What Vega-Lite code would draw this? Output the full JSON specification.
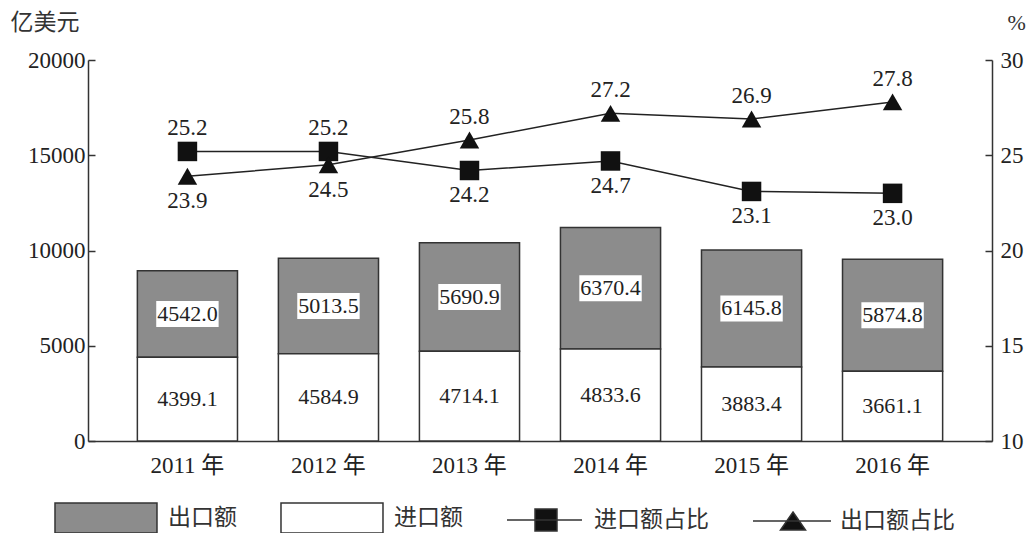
{
  "$schema": "https://vega.github.io/schema/vega-lite/v6.json",
  "width": 904,
  "height": 381,
  "autosize": {"type": "none"},
  "padding": {"left": 88, "top": 60, "right": 43, "bottom": 92},
  "background": "white",
  "config": {"view": {"stroke": null}, "axis": {"grid": false}},
  "datasets": {
    "trade": [
      {"year": "2011 年", "type": "出口额", "value": 4542.0},
      {"year": "2011 年", "type": "进口额", "value": 4399.1},
      {"year": "2012 年", "type": "出口额", "value": 5013.5},
      {"year": "2012 年", "type": "进口额", "value": 4584.9},
      {"year": "2013 年", "type": "出口额", "value": 5690.9},
      {"year": "2013 年", "type": "进口额", "value": 4714.1},
      {"year": "2014 年", "type": "出口额", "value": 6370.4},
      {"year": "2014 年", "type": "进口额", "value": 4833.6},
      {"year": "2015 年", "type": "出口额", "value": 6145.8},
      {"year": "2015 年", "type": "进口额", "value": 3883.4},
      {"year": "2016 年", "type": "出口额", "value": 5874.8},
      {"year": "2016 年", "type": "进口额", "value": 3661.1}
    ],
    "share": [
      {"year": "2011 年", "series": "进口额占比", "pct": 25.2},
      {"year": "2012 年", "series": "进口额占比", "pct": 25.2},
      {"year": "2013 年", "series": "进口额占比", "pct": 24.2},
      {"year": "2014 年", "series": "进口额占比", "pct": 24.7},
      {"year": "2015 年", "series": "进口额占比", "pct": 23.1},
      {"year": "2016 年", "series": "进口额占比", "pct": 23.0},
      {"year": "2011 年", "series": "出口额占比", "pct": 23.9},
      {"year": "2012 年", "series": "出口额占比", "pct": 24.5},
      {"year": "2013 年", "series": "出口额占比", "pct": 25.8},
      {"year": "2014 年", "series": "出口额占比", "pct": 27.2},
      {"year": "2015 年", "series": "出口额占比", "pct": 26.9},
      {"year": "2016 年", "series": "出口额占比", "pct": 27.8}
    ]
  },
  "layer": [
    {
      "data": {"name": "trade"},
      "transform": [
        {"stack": "value", "groupby": ["year"], "sort": [{"field": "type", "order": "descending"}], "as": ["v0", "v1"]},
        {"calculate": "(datum.v0 + datum.v1) / 2", "as": "vmid"}
      ],
      "encoding": {
        "x": {
          "field": "year", "type": "nominal", "sort": null,
          "scale": {"paddingInner": 0.29, "paddingOuter": 0.35},
          "axis": {"title": null, "labelAngle": 0, "ticks": false, "labelPadding": 13, "labelFont": "Liberation Serif, Noto Sans CJK SC", "labelFontSize": 23, "labelColor": "#222", "domainColor": "#333", "domainWidth": 1.5}
        }
      },
      "layer": [
        {
          "mark": {"type": "bar", "stroke": "#333", "strokeWidth": 1.5},
          "encoding": {
            "y": {
              "field": "v0", "type": "quantitative",
              "scale": {"domain": [0, 20000], "nice": false},
              "axis": {"values": [0, 5000, 10000, 15000, 20000], "format": "d", "title": "亿美元", "titleAngle": 0, "titleAlign": "left", "titleBaseline": "middle", "titleX": -78, "titleY": -38, "titleFont": "Noto Sans CJK SC", "titleFontSize": 23, "titleFontWeight": "normal", "titleColor": "#333", "labelFont": "Liberation Serif", "labelFontSize": 23, "labelColor": "#222", "labelPadding": 10, "tickSize": -7, "tickColor": "#333", "tickWidth": 1.5, "domainColor": "#333", "domainWidth": 1.5}
            },
            "y2": {"field": "v1"},
            "fill": {
              "field": "type", "type": "nominal",
              "scale": {"domain": ["出口额", "进口额", "进口额占比", "出口额占比"], "range": ["#8c8c8c", "#ffffff", "#111111", "#111111"]},
              "legend": {
                "orient": "none", "legendX": -33, "legendY": 442, "direction": "horizontal", "title": null,
                "symbolSize": 900, "symbolStrokeWidth": 1.5, "symbolStrokeColor": "#333", "symbolOpacity": 1,
                "labelOffset": 81, "labelFont": "Noto Sans CJK SC", "labelFontSize": 23, "labelColor": "#333",
                "columnPadding": 40, "padding": 0, "labelLimit": 300,
                "encode": {
                  "symbols": {"update": {"shape": {"signal": "datum.value === '进口额占比' ? 'M-1.067,0H3.933M0.8,-0.733H2.267V0.733H0.8Z' : datum.value === '出口额占比' ? 'M-1.067,0H4.133M1.6,-0.6L2.433,0.6H0.767Z' : 'M-1.067,-1H5.733V1H-1.067Z'"}, "stroke": {"value": "#333"}, "strokeWidth": {"value": 1.5}}},
                  "labels": {"update": {"x": {"signal": "datum.value === '进口额占比' || datum.value === '出口额占比' ? 87 : 113"}}}
                }
              }
            }
          }
        },
        {
          "transform": [{"filter": "datum.type === '出口额'"}],
          "mark": {"type": "point", "shape": "M-2.4,-1H2.4V1H-2.4Z", "size": 676, "filled": true, "fill": "white", "opacity": 1, "strokeWidth": 0},
          "encoding": {"y": {"field": "vmid", "type": "quantitative", "title": "亿美元"}}
        },
        {
          "mark": {"type": "text", "font": "Liberation Serif", "fontSize": 22, "color": "#222", "baseline": "middle"},
          "encoding": {
            "y": {"field": "vmid", "type": "quantitative", "title": "亿美元"},
            "text": {"field": "value", "type": "quantitative", "format": ".1f"}
          }
        }
      ]
    },
    {
      "data": {"name": "share"},
      "transform": [{"joinaggregate": [{"op": "max", "field": "pct", "as": "maxpct"}], "groupby": ["year"]}],
      "encoding": {
        "x": {"field": "year", "type": "nominal", "sort": null, "axis": {"title": null, "labelAngle": 0, "ticks": false, "labelPadding": 13, "labelFont": "Liberation Serif, Noto Sans CJK SC", "labelFontSize": 23, "labelColor": "#222", "domainColor": "#333", "domainWidth": 1.5}},
        "y": {
          "field": "pct", "type": "quantitative",
          "scale": {"domain": [10, 30], "nice": false},
          "axis": {"orient": "right", "values": [10, 15, 20, 25, 30], "title": "%", "titleAngle": 0, "titleAlign": "left", "titleBaseline": "middle", "titleX": 15, "titleY": -38, "titleFont": "Liberation Serif", "titleFontSize": 22, "titleFontWeight": "normal", "titleColor": "#333", "labelFont": "Liberation Serif", "labelFontSize": 23, "labelColor": "#222", "labelPadding": 15, "tickSize": -7, "tickColor": "#333", "tickWidth": 1.5, "domainColor": "#333", "domainWidth": 1.5}
        }
      },
      "layer": [
        {"mark": {"type": "line", "color": "#222", "strokeWidth": 1.5}, "encoding": {"detail": {"field": "series"}}},
        {
          "mark": {"type": "point", "filled": true, "color": "#111", "opacity": 1, "size": 380},
          "encoding": {"shape": {"field": "series", "type": "nominal", "scale": {"domain": ["进口额占比", "出口额占比"], "range": ["square", "triangle-up"]}, "legend": null}}
        },
        {
          "transform": [{"filter": "datum.pct === datum.maxpct"}],
          "mark": {"type": "text", "font": "Liberation Serif", "fontSize": 23, "color": "#222", "baseline": "middle", "dy": -23},
          "encoding": {"text": {"field": "pct", "type": "quantitative", "format": ".1f"}}
        },
        {
          "transform": [{"filter": "datum.pct < datum.maxpct"}],
          "mark": {"type": "text", "font": "Liberation Serif", "fontSize": 23, "color": "#222", "baseline": "middle", "dy": 25},
          "encoding": {"text": {"field": "pct", "type": "quantitative", "format": ".1f"}}
        }
      ]
    }
  ],
  "resolve": {"scale": {"y": "independent"}}
}
